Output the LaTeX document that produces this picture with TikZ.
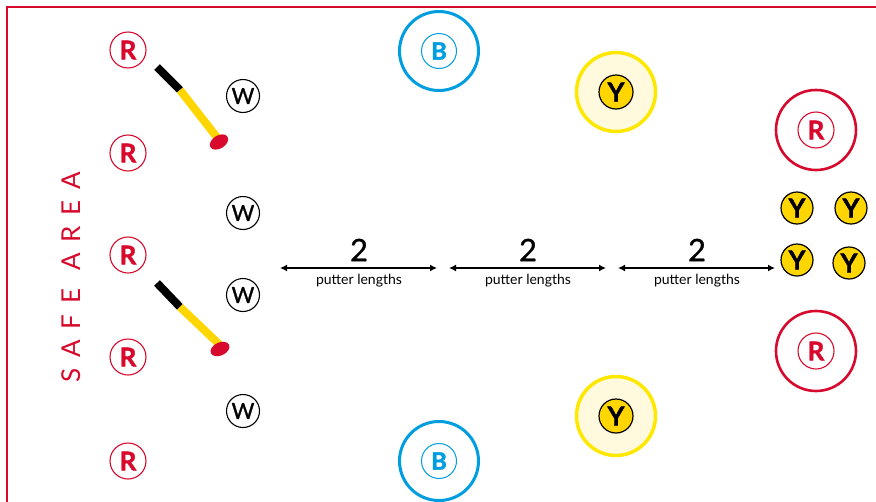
\documentclass[tikz,border=0pt]{standalone}
\usepackage{fontspec}
\setmainfont{Lato}
\usetikzlibrary{arrows.meta,shapes.geometric}

\definecolor{safered}{RGB}{215,10,45}
\definecolor{coneblue}{RGB}{0,158,224}
\definecolor{ringyellow}{RGB}{255,232,0}
\definecolor{palefill}{RGB}{255,250,222}
\definecolor{ballgold}{RGB}{255,214,0}
\definecolor{shaftyellow}{RGB}{255,214,0}

\newcommand{\heavyletter}[1]{\bfseries\fontsize{#1}{#1}\selectfont\addfontfeature{FakeBold=1.6}}

\begin{document}
\begin{tikzpicture}[x=1pt,y=-1pt,
  rmark/.style={circle,draw=safered,line width=1.1pt,minimum size=36pt,inner sep=0pt,
    text=safered,font=\heavyletter{26}},
  wmark/.style={circle,draw=black,line width=1.1pt,minimum size=33pt,inner sep=0pt,
    font=\fontsize{22}{22}\selectfont\addfontfeature{FakeBold=1.2}},
  bmark/.style={circle,draw=coneblue,line width=1pt,minimum size=35pt,inner sep=0pt,
    text=coneblue,font=\heavyletter{24}},
  ymark/.style={circle,draw=black,line width=1.2pt,fill=ballgold,minimum size=34pt,inner sep=0pt,
    font=\heavyletter{26}},
  ysmall/.style={ymark,minimum size=32pt},
  bluering/.style={circle,draw=coneblue,line width=3pt,minimum size=79pt,inner sep=0pt},
  yellowring/.style={circle,draw=ringyellow,fill=palefill,line width=3.5pt,minimum size=79pt,inner sep=0pt},
  redring/.style={circle,draw=safered,line width=2.6pt,minimum size=80pt,inner sep=0pt},
  grip/.style={draw=black,line width=8pt},
  shaft/.style={draw=shaftyellow,line width=8pt},
  clubhead/.style={ellipse,fill=safered,minimum width=20pt,minimum height=13pt,inner sep=0pt},
  measure/.style={line width=1.9pt,{Latex[length=7pt,width=7pt]}-{Latex[length=7pt,width=7pt]}},
  twolabel/.style={font=\fontsize{31}{31}\selectfont\addfontfeature{FakeBold=0.8}},
  unitlabel/.style={font=\fontsize{14}{14}\selectfont},
]
\useasboundingbox (0,0) rectangle (876,501);

% boundary of the playing area
\draw[safered,line width=2pt] (877,7) -- (7,7) -- (7,502);

% safe area label
\node[text=safered,rotate=90,font=\fontsize{26}{26}\selectfont\addfontfeature{LetterSpace=42}]
  (safe) at (71,277) {SAFE AREA};

% left column of R markers
\node[rmark] (r1) at (128,50) {R};
\node[rmark] (r2) at (128,153) {R};
\node[rmark] (r3) at (128,255) {R};
\node[rmark] (r4) at (128,357) {R};
\node[rmark] (r5) at (128,461) {R};

% putters
\coordinate (p1a) at (157,67);
\coordinate (p1b) at (180,90);
\coordinate (p1c) at (219,140);
\draw[grip,line cap=butt] (p1a) -- (p1b);
\draw[shaft] (p1b) -- (p1c);
\node[clubhead,rotate=32] (h1) at (219,142) {};

\coordinate (p2a) at (157,283);
\coordinate (p2b) at (180,307);
\coordinate (p2c) at (221,346);
\draw[grip,line cap=butt] (p2a) -- (p2b);
\draw[shaft] (p2b) -- (p2c);
\node[clubhead,rotate=25] (h2) at (220,349) {};

% W markers
\node[wmark] (w1) at (243,96) {W};
\node[wmark] (w2) at (243,213) {W};
\node[wmark] (w3) at (243,295) {W};
\node[wmark] (w4) at (243,411) {W};

% blue targets
\node[bluering] (bring1) at (439,51) {};
\node[bmark] (b1) at (439,51) {B};
\node[bluering] (bring2) at (439,461) {};
\node[bmark] (b2) at (439,461) {B};

% yellow targets
\node[yellowring] (yring1) at (616,92) {};
\node[ymark] (y1) at (616,92) {Y};
\node[yellowring] (yring2) at (616,416) {};
\node[ymark] (y2) at (616,416) {Y};

% red targets on the right
\node[redring] (rring1) at (816,130) {};
\node[rmark] (r6) at (816,130) {R};
\node[redring] (rring2) at (816,351) {};
\node[rmark] (r7) at (816,351) {R};

% yellow cluster
\node[ysmall] (y3) at (797,208) {Y};
\node[ysmall] (y4) at (851,208) {Y};
\node[ysmall] (y5) at (797,260) {Y};
\node[ysmall] (y6) at (849,263) {Y};

% distance markers
\coordinate (m1l) at (280,268);
\coordinate (m1r) at (437,268);
\coordinate (m2l) at (449,268);
\coordinate (m2r) at (606,268);
\coordinate (m3l) at (618,268);
\coordinate (m3r) at (775,268);
\draw[measure] (m1l) -- (m1r);
\draw[measure] (m2l) -- (m2r);
\draw[measure] (m3l) -- (m3r);
\node[twolabel] (d1) at (359,250) {2};
\node[twolabel] (d2) at (528,250) {2};
\node[twolabel] (d3) at (697,250) {2};
\node[unitlabel] (u1) at (359,281) {putter lengths};
\node[unitlabel] (u2) at (528,281) {putter lengths};
\node[unitlabel] (u3) at (697,281) {putter lengths};
\end{tikzpicture}
\end{document}
